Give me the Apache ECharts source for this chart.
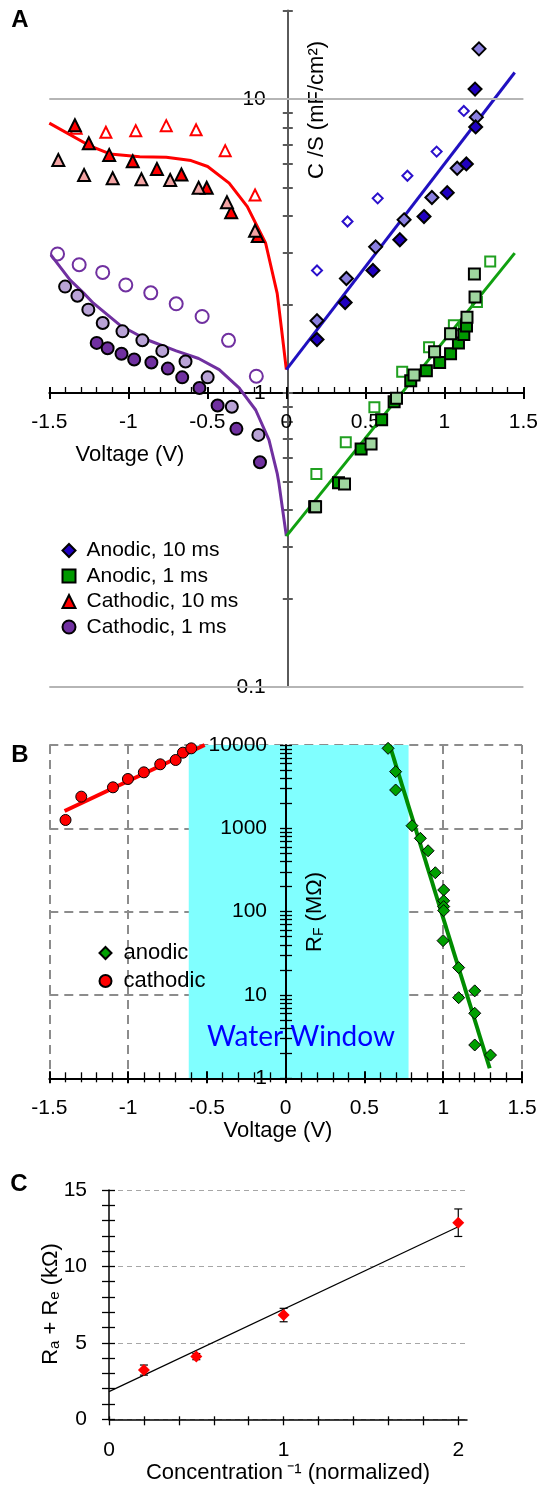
<!DOCTYPE html>
<html>
<head>
<meta charset="utf-8">
<title>Capacitance and Faradaic resistance vs voltage</title>
<script src="https://cdn.jsdelivr.net/npm/echarts@6/dist/echarts.min.js"></script>
<style>
html, body { margin: 0; padding: 0; background: #fff; }
#chart { width: 541px; height: 1489px; }
</style>
</head>
<body>
<div id="chart"></div>
<script>
// ---- panel A : C/S (mF/cm2) vs voltage ----
const anodic10Dark = [[0.194,1.52],[0.372,2.03],[0.548,2.61],[0.718,3.32],[0.871,3.98],[1.018,4.80],[1.139,6.01],[1.198,8.03],[1.194,10.8]];
const anodic10Light = [[0.194,1.76],[0.38,2.45],[0.565,3.14],[0.745,3.88],[0.921,4.62],[1.081,5.81],[1.202,8.67],[1.219,14.8]];
const anodic10Open = [[0.194,2.61],[0.387,3.83],[0.578,4.59],[0.766,5.48],[0.951,6.62],[1.123,9.1]];
const anodic10Fit = [[0,1.2],[1.445,12.3]];

const anodic1Dark = [[0.179,0.41],[0.33,0.495],[0.473,0.645],[0.603,0.81],[0.682,0.934],[0.787,1.10],[0.886,1.19],[0.97,1.27],[1.039,1.36],[1.089,1.48],[1.123,1.58],[1.14,1.69]];
const anodic1Light = [[0.185,0.41],[0.368,0.49],[0.536,0.67],[0.697,0.96],[0.808,1.15],[0.938,1.38],[1.039,1.59],[1.143,1.81],[1.194,2.12],[1.19,2.54]];
const anodic1Open = [[0.19,0.53],[0.376,0.68],[0.557,0.894],[0.733,1.18],[0.903,1.43],[1.06,1.70],[1.206,2.04],[1.29,2.80]];
const anodic1Fit = [[0,0.326],[1.445,2.99]];

const cathodic10Dark = [[-1.338,8.14],[-1.25,7.07],[-1.121,6.45],[-0.972,6.14],[-0.819,5.78],[-0.664,5.53],[-0.504,4.99],[-0.349,4.12],[-0.181,3.42]];
const cathodic10Light = [[-1.443,6.2],[-1.28,5.51],[-1.099,5.37],[-0.917,5.33],[-0.735,5.3],[-0.555,4.99],[-0.376,4.45],[-0.198,3.56]];
const cathodic10Open = [[-1.33,7.94],[-1.142,7.7],[-0.953,7.8],[-0.76,8.11],[-0.571,7.85],[-0.387,6.67],[-0.198,4.71]];
const cathodic10Fit = [[-1.5,8.27],[-1.247,6.94],[-1.116,6.5],[-0.928,6.36],[-0.76,6.33],[-0.603,6.17],[-0.498,5.89],[-0.362,5.17],[-0.247,4.3],[-0.131,3.23],[-0.058,2.18],[-0.03,1.64],[0,1.2]];

const cathodic1Dark = [[-1.2,1.48],[-1.131,1.42],[-1.043,1.36],[-0.963,1.30],[-0.854,1.27],[-0.75,1.21],[-0.659,1.13],[-0.55,1.04],[-0.435,0.906],[-0.316,0.755],[-0.167,0.581]];
const cathodic1Light = [[-1.4,2.3],[-1.322,2.14],[-1.253,1.92],[-1.162,1.73],[-1.037,1.62],[-0.911,1.51],[-0.785,1.39],[-0.638,1.28],[-0.498,1.13],[-0.345,0.898],[-0.177,0.72]];
const cathodic1Open = [[-1.448,2.97],[-1.311,2.73],[-1.162,2.57],[-1.016,2.33],[-0.858,2.19],[-0.697,2.01],[-0.533,1.82],[-0.366,1.51],[-0.19,1.14]];
const cathodic1Fit = [[-1.49,2.95],[-1.368,2.42],[-1.284,2.19],[-1.221,2.02],[-1.053,1.70],[-0.886,1.52],[-0.697,1.39],[-0.555,1.31],[-0.425,1.2],[-0.299,1.04],[-0.194,0.875],[-0.11,0.692],[-0.058,0.533],[-0.047,0.493],[0,0.326]];

const aYTicks = [0.1,0.2,0.3,0.4,0.5,0.6,0.7,0.8,0.9,1,2,3,4,5,6,7,8,9,10,20];
const aYLabels = [0.1, 1, 10];
const aRefLines = [10, 0.1];

// ---- panel B : R_F (MOhm) vs voltage ----
const cathodicRF = [[-1.397,1259],[-1.297,2400],[-1.096,3105],[-1.001,3908],[-0.9,4699],[-0.796,5865],[-0.698,6607],[-0.652,8090],[-0.599,9120]];
const cathodicRFFit = [[-1.403,1614],[-0.514,10000]];
const anodicRF = [[0.65,9120],[0.698,4786],[0.698,2884],[0.802,1075],[0.855,759],[0.904,538],[0.95,293],[1.003,182],[1.003,135],[1.003,115],[1.003,103],[0.999,44.9],[1.098,21.3],[1.2,11.2],[1.098,9.28],[1.2,6.03],[1.2,2.51],[1.3,1.9]];
const anodicRFFit = [[0.66,10000],[1.295,1.32]];
const waterWindow = [-0.615, 0.78];
const bYTicks = [1,2,3,4,5,6,7,8,9,10,20,30,40,50,60,70,80,90,100,200,300,400,500,600,700,800,900,1000,2000,3000,4000,5000,6000,7000,8000,9000,10000];

// ---- panel C : Ra + Re vs 1/concentration ----
const concentrationInv = [0.2, 0.5, 1, 2];
const resistance = [3.22, 4.1, 6.82, 12.86];
const resistanceErr = [0.33, 0.2, 0.44, 0.9];
const resistanceFit = [[0,1.81],[2,12.6]];
const cXTicks = [0,0.2,0.4,0.6,0.8,1,1.2,1.4,1.6,1.8,2];
const cXLabels = [0, 1, 2];

const FONT = '"Liberation Sans", Arial, sans-serif';
const chart = echarts.init(document.getElementById('chart'));

function scat(name, data, symbol, size, fill, border, bw, xi, yi, z) {
  return {
    name: name, type: 'scatter', data: data, symbol: symbol, symbolSize: size,
    xAxisIndex: xi, yAxisIndex: yi, z: z || 4, silent: true,
    itemStyle: { color: fill, borderColor: border, borderWidth: bw, opacity: 1 }
  };
}
function fit(name, data, color, width, xi, yi) {
  return {
    name: name, type: 'line', data: data, symbol: 'none', xAxisIndex: xi, yAxisIndex: yi,
    lineStyle: { color: color, width: width }, z: 3, silent: true
  };
}
const clear = 'rgba(255,255,255,0)';
const tickTxt = { fontSize: 21, color: '#000', fontFamily: FONT };
const noAxis = { axisLine: { show: false }, axisLabel: { show: false }, splitLine: { show: false } };

const option = {
  animation: false,
  backgroundColor: '#fff',
  grid: [
    { left: 49.3, right: 15, top: 10.4, bottom: 802 },
    { left: 49.3, right: 19, top: 745, bottom: 410.7 },
    { left: 109, right: 74, top: 1190, bottom: 69.7 }
  ],
  xAxis: [
    // A
    { gridIndex: 0, type: 'value', min: -1.5, max: 1.5, interval: 0.5, position: 'bottom', offset: -294, z: 3,
      axisLine: { onZero: false, lineStyle: { color: '#000', width: 2 } },
      axisTick: { inside: true, length: 6, lineStyle: { color: '#000', width: 2 } },
      minorTick: { show: true, splitNumber: 5, length: 6, lineStyle: { color: '#000', width: 1.3 } },
      axisLabel: Object.assign({ margin: 19 }, tickTxt), splitLine: { show: false } },
    Object.assign({ gridIndex: 0, type: 'value', min: -1.5, max: 1.5, interval: 0.5, position: 'bottom', offset: -294, z: 3,
      axisTick: { inside: false, length: 6, lineStyle: { color: '#000', width: 2 } } }, noAxis),
    // B
    { gridIndex: 1, type: 'value', min: -1.5, max: 1.5, interval: 0.5, position: 'bottom', z: 1,
      axisLine: { onZero: false, lineStyle: { color: '#000', width: 2 } },
      axisTick: { inside: true, length: 7, lineStyle: { color: '#000', width: 2 } },
      minorTick: { show: true, splitNumber: 5, length: 6, lineStyle: { color: '#000', width: 1.3 } },
      axisLabel: Object.assign({ margin: 19 }, tickTxt),
      splitLine: { show: true, lineStyle: { color: '#8c8c8c', width: 2, type: [9, 6] } } },
    Object.assign({ gridIndex: 1, type: 'value', min: -1.5, max: 1.5, interval: 0.5, position: 'bottom', z: 1,
      axisTick: { inside: false, length: 5, lineStyle: { color: '#000', width: 2 } },
      minorTick: { show: true, splitNumber: 5, length: 4, lineStyle: { color: '#000', width: 1.3 } } }, noAxis),
    // C
    { gridIndex: 2, type: 'value', min: 0, max: 2.05, position: 'bottom', z: 3,
      axisLine: { onZero: false, lineStyle: { color: '#000', width: 1.5 } },
      axisTick: { customValues: cXTicks, inside: false, length: 6, lineStyle: { color: '#000', width: 1.3 } },
      axisLabel: Object.assign({ customValues: cXLabels, margin: 20 }, tickTxt), splitLine: { show: false } },
    Object.assign({ gridIndex: 2, type: 'value', min: 0, max: 2.05, position: 'bottom', z: 3,
      axisTick: { customValues: cXTicks, inside: true, length: 3, lineStyle: { color: '#000', width: 1.3 } } }, noAxis)
  ],
  yAxis: [
    // A (0, 1)
    { gridIndex: 0, type: 'log', min: 0.1, max: 20, position: 'left', offset: -238.5, z: 3,
      axisLine: { onZero: false, lineStyle: { color: '#5a5a5a', width: 2 } },
      axisTick: { customValues: aYTicks, inside: false, length: 5, lineStyle: { color: '#5a5a5a', width: 2 } },
      axisLabel: Object.assign({ customValues: aYLabels, margin: 22 }, tickTxt), splitLine: { show: false } },
    Object.assign({ gridIndex: 0, type: 'log', min: 0.1, max: 20, position: 'left', offset: -238.5, z: 3,
      axisTick: { customValues: aYTicks, inside: true, length: 5, lineStyle: { color: '#5a5a5a', width: 2 } } }, noAxis),
    // B (2 main, 3 ticks out, 4 ticks in)
    { gridIndex: 1, type: 'log', min: 1, max: 10000, position: 'left', offset: -236.7, z: 1,
      axisLine: { onZero: false, lineStyle: { color: '#000', width: 2 } },
      axisTick: { show: false },
      axisLabel: Object.assign({ margin: 19, formatter: v => String(v) }, tickTxt),
      splitLine: { show: true, lineStyle: { color: '#8c8c8c', width: 2, type: [9, 6] } } },
    Object.assign({ gridIndex: 1, type: 'log', min: 1, max: 10000, position: 'left', offset: -236.7, z: 1,
      axisTick: { customValues: bYTicks, inside: false, length: 6, lineStyle: { color: '#000', width: 1.3 } } }, noAxis),
    Object.assign({ gridIndex: 1, type: 'log', min: 1, max: 10000, position: 'left', offset: -236.7, z: 1,
      axisTick: { customValues: bYTicks, inside: true, length: 6, lineStyle: { color: '#000', width: 1.3 } } }, noAxis),
    // C (5, 6)
    { gridIndex: 2, type: 'value', min: 0, max: 15, interval: 5, position: 'left', z: 3,
      axisLine: { onZero: false, lineStyle: { color: '#000', width: 1.5 } },
      axisTick: { inside: false, length: 7, lineStyle: { color: '#000', width: 1.3 } },
      minorTick: { show: true, splitNumber: 5, length: 7, lineStyle: { color: '#000', width: 1.3 } },
      axisLabel: Object.assign({ margin: 22 }, tickTxt),
      splitLine: { show: true, lineStyle: { color: '#a6a6a6', width: 1, type: [5, 4] } } },
    Object.assign({ gridIndex: 2, type: 'value', min: 0, max: 15, interval: 5, position: 'left', z: 3,
      axisTick: { inside: true, length: 6, lineStyle: { color: '#000', width: 1.3 } },
      minorTick: { show: true, splitNumber: 5, length: 6, lineStyle: { color: '#000', width: 1.3 } } }, noAxis)
  ],
  legend: [
    { data: ['Anodic, 10 ms', 'Anodic, 1 ms', 'Cathodic, 10 ms', 'Cathodic, 1 ms'],
      orient: 'vertical', left: 56.5, top: 535, itemWidth: 13, itemHeight: 13, itemGap: 4.5,
      selectedMode: false, textStyle: { fontSize: 21, color: '#000', fontFamily: FONT, padding: [0, 0, 0, 6] } },
    { data: ['anodic', 'cathodic'],
      orient: 'vertical', left: 93.5, top: 937, itemWidth: 12, itemHeight: 12, itemGap: 6,
      selectedMode: false, textStyle: { fontSize: 22, color: '#000', fontFamily: FONT, padding: [0, 0, 0, 7] } }
  ],
  series: [
    // panel A
    { name: 'refLines', type: 'line', data: [], xAxisIndex: 0, yAxisIndex: 0, z: 1, silent: true,
      markLine: { silent: true, symbol: 'none', label: { show: false },
        lineStyle: { color: '#b5b5b5', width: 2, type: 'solid' },
        data: aRefLines.map(v => ({ yAxis: v })) } },
    fit('c10fit', cathodic10Fit, '#ff0000', 3, 0, 0),
    fit('c1fit', cathodic1Fit, '#7030a0', 3, 0, 0),
    fit('a10fit', anodic10Fit, '#2010c0', 3, 0, 0),
    fit('a1fit', anodic1Fit, '#10a010', 3, 0, 0),
    scat('a10open', anodic10Open, 'diamond', 10, clear, '#2a10cc', 2, 0, 0),
    scat('a10light', anodic10Light, 'diamond', 13, '#8b80e0', '#000', 2, 0, 0),
    scat('Anodic, 10 ms', anodic10Dark, 'diamond', 13, '#2000c0', '#000', 2, 0, 0),
    scat('a1open', anodic1Open, 'rect', 10, clear, '#20a020', 2, 0, 0),
    scat('Anodic, 1 ms', anodic1Dark, 'rect', 11, '#009900', '#000', 2, 0, 0),
    scat('a1light', anodic1Light, 'rect', 11, '#9fd69f', '#000', 2, 0, 0),
    scat('c10open', cathodic10Open, 'triangle', 11, clear, '#ff0000', 2, 0, 0),
    scat('Cathodic, 10 ms', cathodic10Dark, 'triangle', 12, '#ff0000', '#000', 2, 0, 0),
    scat('c10light', cathodic10Light, 'triangle', 12, '#f3a3a3', '#000', 2, 0, 0),
    scat('c1open', cathodic1Open, 'circle', 13, clear, '#7030a0', 2, 0, 0),
    scat('c1light', cathodic1Light, 'circle', 12, '#b9a3d6', '#000', 2, 0, 0),
    scat('Cathodic, 1 ms', cathodic1Dark, 'circle', 12, '#7030a0', '#000', 2, 0, 0),
    // panel B
    { name: 'window', type: 'line', data: [], xAxisIndex: 2, yAxisIndex: 2, z: 0, silent: true,
      markArea: { silent: true, itemStyle: { color: '#80ffff' },
        data: [[{ xAxis: waterWindow[0], yAxis: 1 }, { xAxis: waterWindow[1], yAxis: 10000 }]] } },
    fit('cRFfit', cathodicRFFit, '#ff0000', 4, 2, 2),
    fit('aRFfit', anodicRFFit, '#008c00', 4, 2, 2),
    scat('anodic', anodicRF, 'diamond', 12, '#00a000', '#000', 1, 2, 2),
    scat('cathodic', cathodicRF, 'circle', 11, '#ff0000', '#000', 1, 2, 2),
    // panel C
    fit('cFit', resistanceFit, '#000', 1.2, 4, 5),
    { name: 'err', type: 'custom', xAxisIndex: 4, yAxisIndex: 5, z: 4, silent: true,
      data: concentrationInv.map((x, i) => [x, resistance[i], resistanceErr[i]]),
      encode: { x: 0, y: 1 },
      renderItem: function (params, api) {
        const x = api.value(0), y = api.value(1), e = api.value(2);
        const hi = api.coord([x, y + e]);
        const lo = api.coord([x, y - e]);
        const st = { stroke: '#000', lineWidth: 1.2 };
        return { type: 'group', children: [
          { type: 'line', shape: { x1: hi[0], y1: hi[1], x2: lo[0], y2: lo[1] }, style: st },
          { type: 'line', shape: { x1: hi[0] - 4, y1: hi[1], x2: hi[0] + 4, y2: hi[1] }, style: st },
          { type: 'line', shape: { x1: lo[0] - 4, y1: lo[1], x2: lo[0] + 4, y2: lo[1] }, style: st }
        ] };
      } },
    scat('resistance', concentrationInv.map((x, i) => [x, resistance[i]]), 'diamond', 12, '#ff0000', '#ff0000', 0, 4, 5, 5)
  ],
  graphic: [
    { type: 'text', x: 20, y: 20, style: { text: 'A', font: 'bold 24px ' + FONT, fill: '#000', align: 'center', verticalAlign: 'middle' } },
    { type: 'text', x: 20, y: 755, style: { text: 'B', font: 'bold 24px ' + FONT, fill: '#000', align: 'center', verticalAlign: 'middle' } },
    { type: 'text', x: 19, y: 1184, style: { text: 'C', font: 'bold 24px ' + FONT, fill: '#000', align: 'center', verticalAlign: 'middle' } },
    { type: 'text', x: 317, y: 110, rotation: Math.PI / 2,
      style: { text: 'C /S (mF/cm\u00b2)', font: '22px ' + FONT, fill: '#000', align: 'center', verticalAlign: 'middle' } },
    { type: 'text', x: 130, y: 455, style: { text: 'Voltage (V)', font: '22px ' + FONT, fill: '#000', align: 'center', verticalAlign: 'middle' } },
    { type: 'text', x: 278, y: 1131, style: { text: 'Voltage (V)', font: '22px ' + FONT, fill: '#000', align: 'center', verticalAlign: 'middle' } },
    { type: 'text', x: 301, y: 1037, z: 10,
      style: { text: 'Water Window', font: '28px Lato, "Open Sans", sans-serif', fill: '#0000ff', align: 'center', verticalAlign: 'middle' } },
    { type: 'text', x: 313, y: 912, rotation: Math.PI / 2, z: 10,
      style: { text: '{m|R}{s|F}{m| (M\u03a9)}', align: 'center', verticalAlign: 'middle', fill: '#000',
        rich: { m: { fontSize: 22, fontFamily: FONT, lineHeight: 26, verticalAlign: 'bottom' },
                s: { fontSize: 14, fontFamily: FONT, lineHeight: 14, verticalAlign: 'bottom' } } } },
    { type: 'text', x: 49, y: 1304, rotation: Math.PI / 2,
      style: { text: '{m|R}{s|a}{m| + R}{s|e}{m| (k\u03a9)}', align: 'center', verticalAlign: 'middle', fill: '#000',
        rich: { m: { fontSize: 22, fontFamily: FONT, lineHeight: 26, verticalAlign: 'bottom' },
                s: { fontSize: 15, fontFamily: FONT, lineHeight: 15, verticalAlign: 'bottom' } } } },
    { type: 'text', x: 288, y: 1473,
      style: { text: 'Concentration\u2009\u207b\u00b9 (normalized)', font: '22px ' + FONT, fill: '#000', align: 'center', verticalAlign: 'middle' } }
  ]
};

chart.setOption(option);
</script>
</body>
</html>
